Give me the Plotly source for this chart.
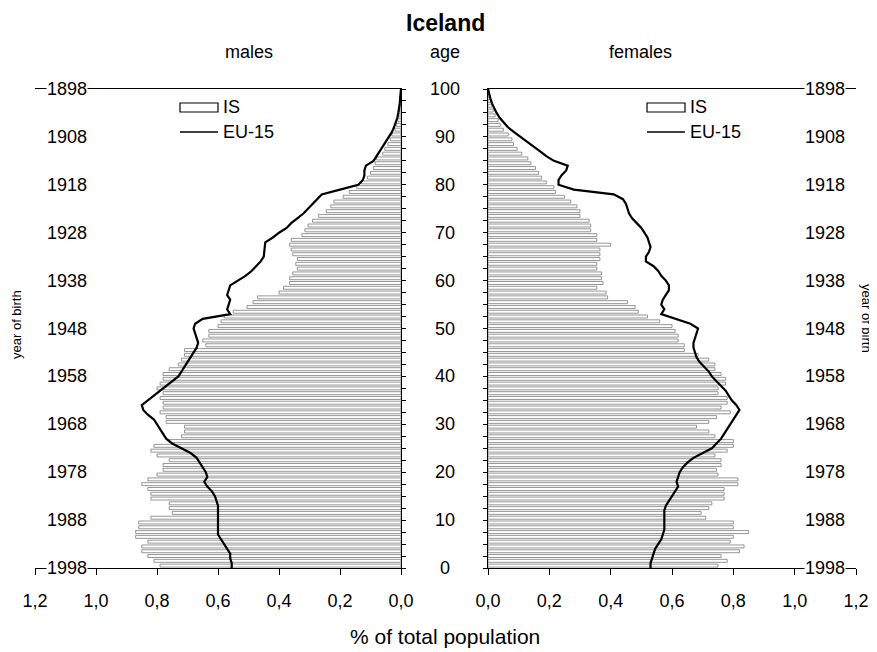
import plotly.graph_objects as go

# ---------------- data ----------------
ages = list(range(0, 101))
age_ticks = [0, 10, 20, 30, 40, 50, 60, 70, 80, 90, 100]
birth_years = [1998, 1988, 1978, 1968, 1958, 1948, 1938, 1928, 1918, 1908, 1898]
x_ticks = [0.0, 0.2, 0.4, 0.6, 0.8, 1.0, 1.2]

# Iceland males, % of total population, ages 0..100
male_is = [0.79, 0.81, 0.83, 0.85, 0.85, 0.83, 0.87, 0.87, 0.86, 0.86,
           0.82, 0.75, 0.76, 0.76, 0.82, 0.82, 0.83, 0.85, 0.83, 0.80,
           0.78, 0.78, 0.76, 0.80, 0.82, 0.81, 0.76, 0.72, 0.71, 0.71,
           0.77, 0.77, 0.79, 0.78, 0.78, 0.79, 0.78, 0.80, 0.79, 0.78,
           0.78, 0.76, 0.73, 0.72, 0.71, 0.71, 0.64, 0.65, 0.63, 0.63,
           0.60, 0.59, 0.58, 0.55, 0.505, 0.485, 0.47, 0.40, 0.385, 0.365,
           0.365, 0.355, 0.34, 0.345, 0.34, 0.355, 0.36, 0.365, 0.36, 0.325,
           0.315, 0.305, 0.29, 0.27, 0.245, 0.23, 0.22, 0.19, 0.17, 0.145,
           0.13, 0.11, 0.10, 0.09, 0.085, 0.08, 0.06, 0.053, 0.043, 0.035,
           0.03, 0.02, 0.014, 0.01, 0.007, 0.005, 0.003, 0.002, 0.001, 0.001,
           0.0]

# EU-15 males
male_eu = [0.555, 0.555, 0.56, 0.56, 0.57, 0.58, 0.59, 0.60, 0.60, 0.60,
           0.60, 0.60, 0.60, 0.60, 0.605, 0.61, 0.62, 0.635, 0.645, 0.635,
           0.64, 0.65, 0.66, 0.67, 0.69, 0.72, 0.75, 0.77, 0.78, 0.79,
           0.80, 0.81, 0.83, 0.845, 0.85, 0.83, 0.81, 0.79, 0.77, 0.75,
           0.73, 0.72, 0.71, 0.70, 0.69, 0.68, 0.67, 0.665, 0.67, 0.675,
           0.68, 0.675, 0.65, 0.56, 0.57, 0.565, 0.56, 0.57, 0.565, 0.56,
           0.535, 0.51, 0.49, 0.475, 0.46, 0.45, 0.448, 0.445, 0.445, 0.42,
           0.40, 0.375, 0.36, 0.34, 0.32, 0.305, 0.29, 0.275, 0.26, 0.20,
           0.14, 0.125, 0.12, 0.12, 0.115, 0.09, 0.08, 0.068, 0.058, 0.048,
           0.038, 0.03, 0.023, 0.017, 0.012, 0.009, 0.006, 0.004, 0.003, 0.002,
           0.0]

# Iceland females
female_is = [0.75, 0.78, 0.76, 0.82, 0.835, 0.79, 0.80, 0.85, 0.80, 0.80,
             0.71, 0.695, 0.72, 0.73, 0.77, 0.77, 0.77, 0.815, 0.815, 0.75,
             0.745, 0.76, 0.76, 0.74, 0.78, 0.80, 0.80, 0.74, 0.72, 0.68,
             0.72, 0.745, 0.79, 0.76, 0.78, 0.78, 0.75, 0.75, 0.775, 0.775,
             0.76, 0.74, 0.74, 0.72, 0.685, 0.64, 0.64, 0.62, 0.62, 0.61,
             0.60, 0.56, 0.52, 0.49, 0.48, 0.455, 0.39, 0.385, 0.355, 0.375,
             0.37, 0.37, 0.355, 0.355, 0.365, 0.365, 0.365, 0.40, 0.355, 0.355,
             0.335, 0.335, 0.33, 0.30, 0.30, 0.29, 0.27, 0.25, 0.22, 0.215,
             0.19, 0.175, 0.165, 0.155, 0.14, 0.13, 0.11, 0.095, 0.083, 0.078,
             0.066, 0.05, 0.04, 0.033, 0.023, 0.017, 0.012, 0.008, 0.005, 0.003,
             0.001]

# EU-15 females
female_eu = [0.53, 0.53, 0.535, 0.54, 0.545, 0.555, 0.565, 0.57, 0.575, 0.575,
             0.575, 0.575, 0.575, 0.58, 0.59, 0.60, 0.61, 0.62, 0.615, 0.62,
             0.625, 0.635, 0.65, 0.67, 0.70, 0.73, 0.745, 0.76, 0.77, 0.78,
             0.79, 0.80, 0.81, 0.82, 0.81, 0.795, 0.785, 0.775, 0.76, 0.745,
             0.73, 0.72, 0.705, 0.69, 0.68, 0.675, 0.67, 0.67, 0.675, 0.68,
             0.685, 0.66, 0.61, 0.565, 0.575, 0.565, 0.57, 0.58, 0.59, 0.59,
             0.58, 0.565, 0.555, 0.54, 0.515, 0.515, 0.525, 0.53, 0.525, 0.52,
             0.51, 0.50, 0.485, 0.47, 0.46, 0.455, 0.45, 0.44, 0.41, 0.28,
             0.23, 0.23, 0.24, 0.255, 0.26, 0.215, 0.19, 0.17, 0.148, 0.127,
             0.105, 0.085, 0.065, 0.05, 0.038, 0.028, 0.02, 0.013, 0.008, 0.003,
             0.0]

# ---------------- figure ----------------
PAGE_OFF = 8            # default body margin of the html page
W, H = 877 - PAGE_OFF, 652 - PAGE_OFF


def px(x):
    """page pixel x -> paper fraction"""
    return (x - PAGE_OFF) / W


def py(y):
    """page pixel y (from top) -> paper fraction"""
    return (H - (y - PAGE_OFF)) / H


FONT = "Liberation Sans, Arial, sans-serif"
bar_y = [a + 0.5 for a in ages]
bar_style = dict(color="white", line=dict(color="#6a6a6a", width=0.7))
eu_style = dict(color="black", width=2.2)

fig = go.Figure()
fig.add_trace(go.Bar(x=male_is, y=bar_y, orientation="h", width=0.62,
                     marker=bar_style, xaxis="x", yaxis="y", name="IS"))
fig.add_trace(go.Scatter(x=male_eu, y=ages, mode="lines", line=eu_style,
                         xaxis="x", yaxis="y", name="EU-15"))
fig.add_trace(go.Bar(x=female_is, y=bar_y, orientation="h", width=0.62,
                     marker=bar_style, xaxis="x2", yaxis="y2", name="IS"))
fig.add_trace(go.Scatter(x=female_eu, y=ages, mode="lines", line=eu_style,
                         xaxis="x2", yaxis="y2", name="EU-15"))

ydom = [py(568), py(89)]
common_x = dict(tickvals=x_ticks, tickformat=".1f", ticks="outside", ticklen=6,
                tickwidth=1, tickcolor="black", showline=True, linecolor="black",
                linewidth=1, mirror=True, showgrid=False, zeroline=False,
                automargin=False,
                tickfont=dict(size=18, family=FONT), ticklabelstandoff=10)
inner_y = dict(range=[0, 100], showline=True, linecolor="black", linewidth=1,
               ticks="outside", tick0=0, dtick=2.5, ticklen=4, tickcolor="black",
               showticklabels=False, showgrid=False, zeroline=False,
               automargin=False, domain=ydom)
outer_y = dict(range=[0, 100], showline=True, linecolor="black", linewidth=1.2,
               ticks="inside", tickvals=age_ticks, ticklen=7, tickcolor="black",
               showticklabels=False, showgrid=False, zeroline=False,
               automargin=False)

fig.update_layout(
    template="none",
    width=W, height=H, margin=dict(l=0, r=0, t=0, b=0, pad=0), autosize=False,
    paper_bgcolor="white", plot_bgcolor="white", showlegend=False,
    separators=",.", font=dict(family=FONT, color="black", size=18),
    xaxis=dict(domain=[px(35), px(401)], range=[1.2, 0], anchor="y", **common_x),
    xaxis2=dict(domain=[px(488), px(856)], range=[0, 1.2], anchor="y2", **common_x),
    yaxis=dict(anchor="x", side="right", **inner_y),
    yaxis2=dict(anchor="x2", side="left", **inner_y),
    yaxis3=dict(overlaying="y", anchor="x", side="left", **outer_y),
    yaxis4=dict(overlaying="y2", anchor="x2", side="right", **outer_y),
)

ann = []
# year of birth labels (inside the frame) and age labels in the middle
for a, yr in zip(age_ticks, birth_years):
    ann.append(dict(x=px(46), xref="paper", y=a, yref="y", text=str(yr),
                    xanchor="left", yanchor="middle", showarrow=False,
                    bgcolor="white", borderpad=0, font=dict(size=18)))
    ann.append(dict(x=px(846), xref="paper", y=a, yref="y2", text=str(yr),
                    xanchor="right", yanchor="middle", showarrow=False,
                    bgcolor="white", borderpad=0, font=dict(size=18)))
    ann.append(dict(x=px(445), xref="paper", y=a, yref="y", text=str(a),
                    xanchor="center", yanchor="middle", showarrow=False,
                    font=dict(size=18)))

texts = [
    ("<b>Iceland</b>", 445, 23, 23, 0),
    ("males", 249, 52, 18, 0),
    ("age", 445, 52, 18, 0),
    ("females", 640, 52, 18, 0),
    ("% of total population", 445, 636, 21, 0),
    ("year of birth", 16, 325, 13, -90),
    ("year of birth", 867, 318, 13, 90),
]
for t, x, y, s, ang in texts:
    ann.append(dict(x=px(x), y=py(y), xref="paper", yref="paper", text=t,
                    showarrow=False, xanchor="center", yanchor="middle",
                    textangle=ang, font=dict(size=s)))

# legends
shapes = []
for lx in (180, 647):
    shapes.append(dict(type="rect", xref="paper", yref="paper",
                       x0=px(lx), x1=px(lx + 38), y0=py(112), y1=py(103),
                       line=dict(color="black", width=1.2), fillcolor="white"))
    shapes.append(dict(type="line", xref="paper", yref="paper",
                       x0=px(lx), x1=px(lx + 38), y0=py(132), y1=py(132),
                       line=dict(color="black", width=1.6)))
    ann.append(dict(x=px(lx + 41), y=py(107), xref="paper", yref="paper",
                    text="IS", showarrow=False, xanchor="left", yanchor="middle",
                    font=dict(size=18)))
    ann.append(dict(x=px(lx + 41), y=py(132), xref="paper", yref="paper",
                    text="EU-15", showarrow=False, xanchor="left", yanchor="middle",
                    font=dict(size=18)))

fig.update_layout(annotations=ann, shapes=shapes)
fig.write_html("out.html")
